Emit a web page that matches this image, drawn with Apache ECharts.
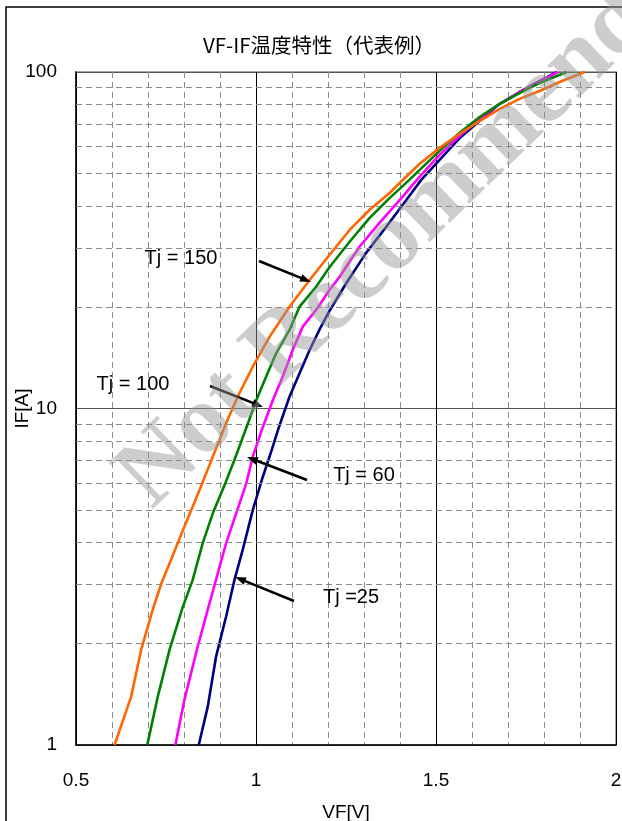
<!DOCTYPE html>
<html>
<head>
<meta charset="utf-8">
<script src="https://cdn.jsdelivr.net/npm/echarts@6/dist/echarts.min.js"></script>
<style>
html,body{margin:0;padding:0;background:#fff;}
#chart{width:622px;height:821px;}
</style>
</head>
<body>
<div id="chart"></div>
<script>
// ---- data (VF [V], IF [A]) ----
const seriesNames = ['Tj = 25', 'Tj = 60', 'Tj = 100', 'Tj = 150'];
const tj25 = [[0.841,1],[0.866,1.30],[0.889,1.83],[0.917,2.41],[0.940,3.09],[0.963,3.80],[0.991,4.99],[1.019,6.27],[1.042,7.43],[1.061,8.63],[1.093,10.84],[1.121,12.72],[1.149,14.92],[1.176,17.12],[1.204,19.49],[1.251,23.6],[1.306,29.0],[1.362,34.7],[1.417,41.6],[1.459,47.8],[1.510,54.8],[1.565,63.5],[1.621,71.5],[1.676,80.3],[1.732,87.2],[1.788,94.0],[1.836,100]];
const tj60 = [[0.776,1],[0.801,1.36],[0.838,1.96],[0.871,2.64],[0.894,3.24],[0.917,3.98],[0.945,4.88],[0.973,5.99],[0.991,7.19],[1.016,8.63],[1.047,10.6],[1.074,12.43],[1.102,14.92],[1.130,17.51],[1.171,19.9],[1.204,22.5],[1.232,24.6],[1.288,30.3],[1.343,35.6],[1.399,41.6],[1.454,48.8],[1.510,56.7],[1.565,64.5],[1.621,72.5],[1.676,80.3],[1.732,87.2],[1.788,93.4],[1.838,100]];
const tj100 = [[0.698,1],[0.727,1.39],[0.760,1.92],[0.797,2.58],[0.824,3.09],[0.852,3.98],[0.880,4.88],[0.913,5.93],[0.940,7.03],[0.976,8.93],[1.001,10.6],[1.028,12.43],[1.056,14.59],[1.093,17.12],[1.121,20.07],[1.167,23.0],[1.204,26.3],[1.260,31.3],[1.315,36.8],[1.371,42.2],[1.426,47.8],[1.454,51.1],[1.510,58.3],[1.565,65.9],[1.621,73.5],[1.676,80.3],[1.732,86.6],[1.788,92.8],[1.863,100]];
const tj150 = [[0.607,1],[0.653,1.39],[0.681,1.92],[0.713,2.52],[0.737,3.02],[0.764,3.55],[0.797,4.35],[0.843,5.72],[0.880,7.19],[0.917,9.04],[0.949,10.84],[0.991,13.31],[1.038,16.35],[1.093,20.07],[1.149,24.09],[1.204,28.59],[1.260,33.93],[1.315,38.9],[1.371,43.7],[1.399,46.8],[1.454,53.3],[1.510,59.5],[1.565,65.4],[1.621,71.5],[1.676,77.6],[1.732,83.2],[1.788,87.8],[1.843,93.4],[1.913,100]];
const xTicks = [0.5, 1, 1.5, 2];
const yTicks = [1, 10, 100];
const yMinorGrid = [2,3,4,5,6,7,8,9,20,30,40,50,60,70,80,90];
const titleText = 'VF-IF温度特性（代表例）';
const xName = 'VF[V]';
const yName = 'IF[A]';
const annotationTexts = ['Tj = 150', 'Tj = 100', 'Tj = 60', 'Tj =25'];
const watermarkText = 'Not Recommended';

const colors = ['#000080', '#ff00ff', '#008000', '#ff6600'];
const latin = "'Liberation Sans', Arial, sans-serif";

function arrow(x1, y1, x2, y2) {
  const dx = x2 - x1, dy = y2 - y1;
  const L = Math.sqrt(dx*dx + dy*dy);
  const ux = dx / L, uy = dy / L;
  const hl = 11, hw = 4;
  const bx = x2 - ux*hl, by = y2 - uy*hl;
  return [
    {type: 'line', shape: {x1: x1, y1: y1, x2: bx + ux*2, y2: by + uy*2}, style: {stroke: '#000', lineWidth: 2.5}, z: 50},
    {type: 'polygon', shape: {points: [[x2, y2], [bx - uy*hw, by + ux*hw], [bx + uy*hw, by - ux*hw]]}, style: {fill: '#000'}, z: 50}
  ];
}

const chart = echarts.init(document.getElementById('chart'), null, {renderer: 'canvas'});
const dataSets = [tj25, tj60, tj100, tj150];

const series = [{
  type: 'line', data: [], silent: true, z: 1,
  markLine: {
    silent: true, symbol: 'none', animation: false,
    label: {show: false},
    lineStyle: {color: '#8a8a8a', type: [6, 4], width: 1},
    data: yMinorGrid.map(v => ({yAxis: v}))
  }
}];
dataSets.forEach((d, i) => {
  series.push({
    name: seriesNames[i], type: 'line', data: d, showSymbol: false, z: 3 + i,
    lineStyle: {color: colors[i], width: 2.6}, itemStyle: {color: colors[i]},
    animation: false
  });
});

const graphics = [
  {type: 'rect', shape: {x: 6, y: 7, width: 700, height: 900}, style: {fill: 'none', stroke: '#000', lineWidth: 1.5}, z: 0},
  {type: 'text', x: 319, y: 45, style: {text: titleText, fontSize: 20.5, fontFamily: "'Noto Sans CJK JP', sans-serif", fill: '#000', textAlign: 'center', textVerticalAlign: 'middle'}, z: 50},
  {type: 'text', x: 181, y: 258, style: {text: annotationTexts[0], fontSize: 20, fontFamily: latin, fill: '#000', textAlign: 'center', textVerticalAlign: 'middle'}, z: 50},
  {type: 'text', x: 133, y: 384, style: {text: annotationTexts[1], fontSize: 20, fontFamily: latin, fill: '#000', textAlign: 'center', textVerticalAlign: 'middle'}, z: 50},
  {type: 'text', x: 364, y: 475, style: {text: annotationTexts[2], fontSize: 20, fontFamily: latin, fill: '#000', textAlign: 'center', textVerticalAlign: 'middle'}, z: 50},
  {type: 'text', x: 351, y: 597, style: {text: annotationTexts[3], fontSize: 20, fontFamily: latin, fill: '#000', textAlign: 'center', textVerticalAlign: 'middle'}, z: 50}
]
.concat(arrow(259, 261, 311, 282))
.concat(arrow(210, 386, 263, 407))
.concat(arrow(307, 480, 247, 457))
.concat(arrow(294, 601, 235, 577))
.concat([{
  type: 'text', x: 421, y: 215, rotation: 44 * Math.PI / 180, silent: true,
  style: {text: watermarkText, fontSize: 98, fontWeight: 'bold', fontFamily: "'Liberation Serif', 'Times New Roman', serif", fill: 'rgba(150,150,150,0.48)', textAlign: 'center', textVerticalAlign: 'middle'},
  z: 100
}]);

chart.setOption({
  animation: false,
  backgroundColor: '#fff',
  grid: {left: 76, right: 6, top: 72, bottom: 76, show: true, borderColor: '#888', borderWidth: 1.5, backgroundColor: 'transparent', outerBoundsMode: 'none', containLabel: false},
  xAxis: {
    type: 'value', min: xTicks[0], max: xTicks[xTicks.length - 1], interval: 0.5,
    name: xName, nameLocation: 'middle', nameGap: 58, nameMoveOverlap: false,
    nameTextStyle: {fontSize: 19, fontFamily: latin, color: '#000'},
    axisLine: {show: true, onZero: false, lineStyle: {color: '#000', width: 1.5}},
    axisTick: {show: false},
    axisLabel: {fontSize: 19, fontFamily: latin, color: '#000', margin: 26, formatter: v => String(v), hideOverlap: false},
    splitLine: {show: true, lineStyle: {color: '#000', width: 1}},
    minorTick: {show: false, splitNumber: 5},
    minorSplitLine: {show: true, lineStyle: {color: '#8a8a8a', type: [6, 4], width: 1}}
  },
  yAxis: {
    type: 'log', logBase: 10, min: yTicks[0], max: yTicks[yTicks.length - 1],
    name: yName, nameLocation: 'middle', nameGap: 44, nameRotate: 90, nameMoveOverlap: false,
    nameTextStyle: {fontSize: 19, fontFamily: latin, color: '#000'},
    axisLine: {show: true, lineStyle: {color: '#000', width: 1.5}},
    axisTick: {show: false},
    axisLabel: {fontSize: 19, fontFamily: latin, color: '#000', margin: 19, formatter: v => String(v)},
    splitLine: {show: true, lineStyle: {color: '#555', width: 1}}
  },
  series: series,
  graphic: graphics
});
</script>
</body>
</html>
